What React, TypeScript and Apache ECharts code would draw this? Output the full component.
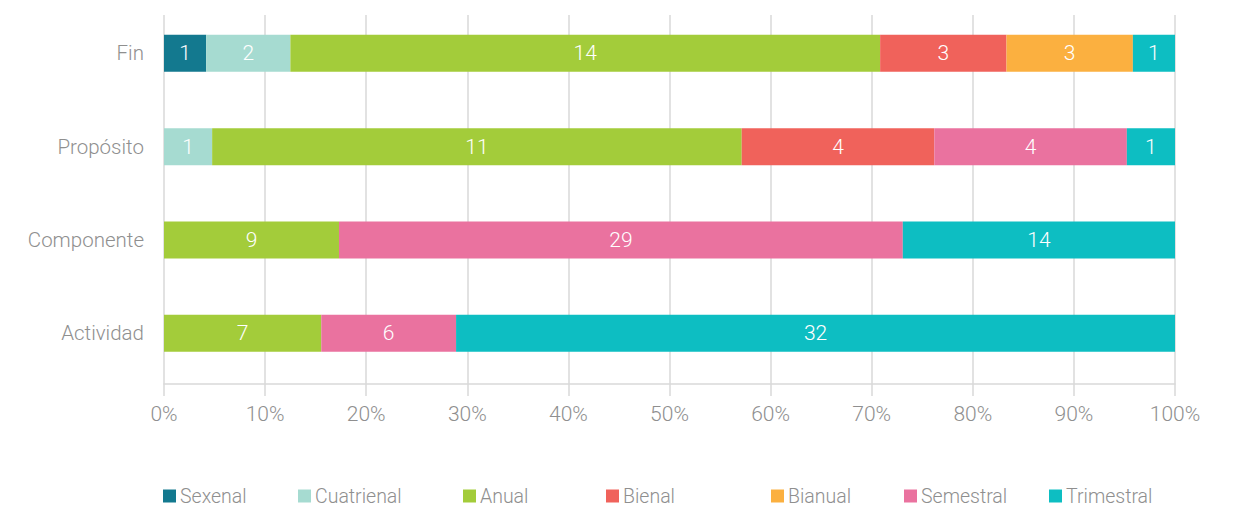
import React, { useEffect, useRef } from "react";
import * as echarts from "echarts";

const categories = ["Actividad", "Componente", "Propósito", "Fin"];
const seriesNames = ["Sexenal", "Cuatrienal", "Anual", "Bienal", "Bianual", "Semestral", "Trimestral"];
const sexenal = [0, 0, 0, 1];
const cuatrienal = [0, 0, 1, 2];
const anual = [7, 9, 11, 14];
const bienal = [0, 0, 4, 3];
const bianual = [0, 0, 0, 3];
const semestral = [6, 29, 4, 0];
const trimestral = [32, 14, 1, 1];
const colors = ["#13798F", "#A6DBD1", "#A3CC3A", "#F0625B", "#FBB040", "#EA729F", "#0DBEC2"];
const xTicks = [0, 10, 20, 30, 40, 50, 60, 70, 80, 90, 100];
const legendX = [163, 298, 463, 606, 771, 904, 1049];

const FONT = "Roboto, 'Noto Sans', sans-serif";
const GRAY = "#8f8f8f";

export default function App() {
  const ref = useRef<HTMLDivElement>(null);
  useEffect(() => {
    if (!ref.current) return;
    const chart = echarts.init(ref.current, null, { renderer: "svg" });
    const counts = [sexenal, cuatrienal, anual, bienal, bianual, semestral, trimestral];
    const totals = categories.map((_, i) => counts.reduce((s, arr) => s + arr[i], 0));
    const series = seriesNames.map((name, k) => ({
      name,
      type: "bar",
      stack: "total",
      xAxisIndex: 1,
      yAxisIndex: 1,
      barWidth: 37,
      itemStyle: { color: colors[k] },
      data: counts[k].map((v, i) => ({ value: (v / totals[i]) * 100, count: v })),
      label: {
        show: true,
        position: "inside",
        color: "#ffffff",
        fontFamily: FONT,
        fontWeight: 300,
        fontSize: 21,
        formatter: (p: any) => (p.data.count ? String(p.data.count) : ""),
      },
    }));
    const legends = seriesNames.map((name, k) => ({
      data: [name],
      left: legendX[k],
      top: 486,
      padding: 0,
      itemWidth: 13,
      itemHeight: 13,
      icon: "rect",
      textStyle: {
        color: GRAY,
        fontFamily: FONT,
        fontWeight: 300,
        fontSize: 19.5,
        lineHeight: 20,
        padding: [0, 0, 0, -1],
      },
    }));
    chart.setOption({
      animation: false,
      legend: legends,
      grid: [
        { left: 164, right: 63, top: 15, bottom: 125 },
        { left: 164, right: 63, top: 6.7, bottom: 129 },
      ],
      xAxis: [
        {
          type: "value",
          gridIndex: 0,
          min: 0,
          max: 100,
          interval: 10,
          axisLine: { show: true, lineStyle: { color: "#d9d9d9", width: 1.5 } },
          axisTick: { show: true, length: 12, lineStyle: { color: "#d9d9d9", width: 1.5 } },
          splitLine: { show: true, lineStyle: { color: "#d9d9d9", width: 1.5 } },
          axisLabel: {
            color: GRAY,
            fontFamily: FONT,
            fontWeight: 300,
            fontSize: 21,
            margin: 19,
            formatter: (v: number) => (xTicks.includes(v) ? v + "%" : ""),
          },
        },
        {
          type: "value",
          gridIndex: 1,
          min: 0,
          max: 100,
          show: false,
        },
      ],
      yAxis: [
        { type: "category", gridIndex: 0, data: categories, show: false },
        {
          type: "category",
          gridIndex: 1,
          data: categories,
          axisLine: { show: false },
          axisTick: { show: false },
          splitLine: { show: false },
          axisLabel: { color: GRAY, fontFamily: FONT, fontWeight: 300, fontSize: 20.5, margin: 20 },
        },
      ],
      series,
    });
    return () => chart.dispose();
  }, []);
  return <div ref={ref} style={{ width: 1238, height: 509, position: "absolute", left: 0, top: 0 }} />;
}
